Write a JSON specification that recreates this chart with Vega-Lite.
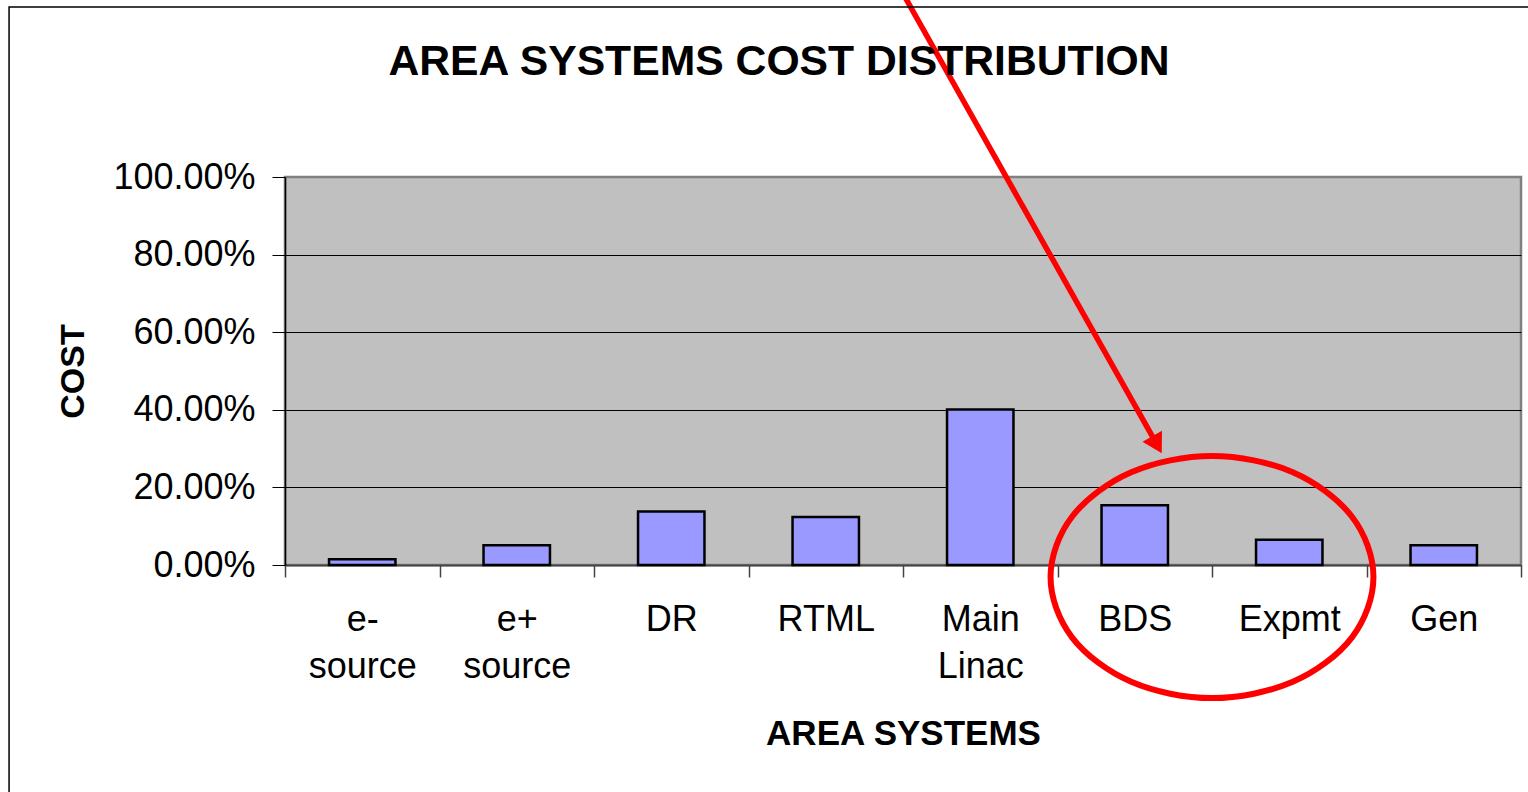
{
  "$schema": "https://vega.github.io/schema/vega-lite/v6.json",
  "width": 1236,
  "height": 388,
  "autosize": {"type": "none"},
  "padding": {"left": 285, "top": 177, "right": 7, "bottom": 227},
  "background": "white",
  "config": {
    "font": "Liberation Sans",
    "view": {"fill": "#C0C0C0", "stroke": "#808080", "strokeWidth": 2.5}
  },
  "title": {
    "text": "AREA SYSTEMS COST DISTRIBUTION",
    "font": "Liberation Sans",
    "fontSize": 42.7,
    "fontWeight": "bold",
    "color": "black",
    "anchor": "middle",
    "frame": "group",
    "dx": -124,
    "offset": -105
  },
  "datasets": {
    "costs": [
      {"area": "e- source", "cost": 0.015},
      {"area": "e+ source", "cost": 0.051},
      {"area": "DR", "cost": 0.138},
      {"area": "RTML", "cost": 0.124},
      {"area": "Main Linac", "cost": 0.401},
      {"area": "BDS", "cost": 0.154},
      {"area": "Expmt", "cost": 0.065},
      {"area": "Gen", "cost": 0.051}
    ],
    "ellipse": [
      {"i": 0, "px": 7.045, "py": -0.031},
      {"i": 1, "px": 6.905, "py": 0.125},
      {"i": 2, "px": 6.523, "py": 0.239},
      {"i": 3, "px": 6.0, "py": 0.281},
      {"i": 4, "px": 5.477, "py": 0.239},
      {"i": 5, "px": 5.095, "py": 0.125},
      {"i": 6, "px": 4.955, "py": -0.031},
      {"i": 7, "px": 5.095, "py": -0.187},
      {"i": 8, "px": 5.477, "py": -0.301},
      {"i": 9, "px": 6.0, "py": -0.343},
      {"i": 10, "px": 6.523, "py": -0.301},
      {"i": 11, "px": 6.905, "py": -0.187}
    ],
    "arrow": [
      {"i": 0, "px": 3.987, "py": 1.482},
      {"i": 1, "px": 5.644, "py": 0.31}
    ],
    "arrowhead": [
      {"px": 5.644, "py": 0.31}
    ],
    "frame": [
      {"x1": -1.786, "x2": 8.3, "y1": 1.438, "y2": -0.7}
    ]
  },
  "layer": [
    {
      "data": {"name": "costs"},
      "mark": {"type": "bar", "fill": "#9999FF", "stroke": "black", "strokeWidth": 2.5, "width": {"band": 0.43}},
      "encoding": {
        "x": {
          "field": "area",
          "type": "nominal",
          "sort": null,
          "scale": {"paddingInner": 0, "paddingOuter": 0},
          "axis": {
            "title": "AREA SYSTEMS",
            "titleFontSize": 35,
            "titleFontWeight": "bold",
            "titleColor": "black",
            "titlePadding": 32,
            "labelExpr": "datum.value ? split(datum.value, ' ') : ''",
            "labelFontSize": 36,
            "labelColor": "black",
            "labelAngle": 0,
            "labelLineHeight": 47,
            "labelPadding": 25,
            "tickBand": "extent",
            "tickSize": 12,
            "tickColor": "#444444",
            "tickWidth": 1.5,
            "domainColor": "#444444",
            "domainWidth": 2,
            "grid": false
          }
        },
        "y": {
          "field": "cost",
          "type": "quantitative",
          "scale": {"domain": [0, 1], "nice": false},
          "axis": {
            "title": "COST",
            "titleFontSize": 34,
            "titleFontWeight": "bold",
            "titleColor": "black",
            "titlePadding": 22,
            "values": [0, 0.2, 0.4, 0.6, 0.8, 1],
            "format": ".2%",
            "labelFontSize": 36,
            "labelColor": "black",
            "labelPadding": 17,
            "tickSize": 13,
            "tickColor": "black",
            "domainColor": "black",
            "domainWidth": 1.5,
            "grid": true,
            "gridColor": {"condition": {"test": "datum.value == 1", "value": "#808080"}, "value": "black"},
            "gridWidth": 1.2,
            "gridOpacity": 1
          }
        }
      }
    },
    {
      "data": {"name": "ellipse"},
      "mark": {"type": "line", "color": "#FF0000", "strokeWidth": 6, "interpolate": "cardinal-closed", "clip": false},
      "encoding": {
        "x": {"field": "px", "type": "quantitative", "scale": {"domain": [0, 8], "nice": false, "zero": false}, "axis": null},
        "y": {"field": "py", "type": "quantitative", "scale": {"domain": [0, 1], "nice": false}},
        "order": {"field": "i"}
      }
    },
    {
      "data": {"name": "arrow"},
      "mark": {"type": "line", "color": "#FF0000", "strokeWidth": 5.5, "clip": false},
      "encoding": {
        "x": {"field": "px", "type": "quantitative", "scale": {"domain": [0, 8], "nice": false, "zero": false}, "axis": null},
        "y": {"field": "py", "type": "quantitative", "scale": {"domain": [0, 1], "nice": false}},
        "order": {"field": "i"}
      }
    },
    {
      "data": {"name": "arrowhead"},
      "mark": {"type": "point", "shape": "triangle-down", "filled": true, "color": "#FF0000", "opacity": 1, "size": 500, "angle": 330.5, "clip": false},
      "encoding": {
        "x": {"field": "px", "type": "quantitative", "scale": {"domain": [0, 8], "nice": false, "zero": false}, "axis": null},
        "y": {"field": "py", "type": "quantitative", "scale": {"domain": [0, 1], "nice": false}}
      }
    },
    {
      "data": {"name": "frame"},
      "mark": {"type": "rect", "fill": null, "fillOpacity": 0, "stroke": "black", "strokeWidth": 1.5, "clip": false},
      "encoding": {
        "x": {"field": "x1", "type": "quantitative", "scale": {"domain": [0, 8], "nice": false, "zero": false}, "axis": null},
        "x2": {"field": "x2"},
        "y": {"field": "y1", "type": "quantitative", "scale": {"domain": [0, 1], "nice": false}},
        "y2": {"field": "y2"}
      }
    }
  ],
  "resolve": {"scale": {"x": "independent"}}
}
